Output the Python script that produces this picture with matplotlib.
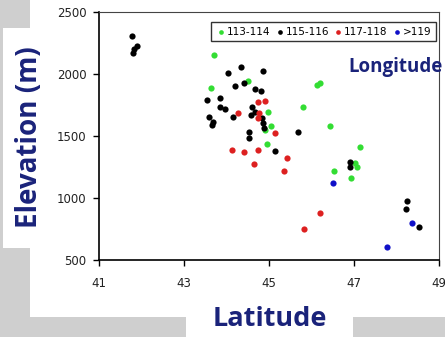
import numpy as np
import matplotlib.pyplot as plt
from matplotlib.patches import Rectangle

# longitude groups: latitude (deg) and elevation (m)
lat_113 = [43.71, 43.63, 44.51, 46.12, 46.20, 45.79, 44.98, 45.04, 44.91, 46.44,
           44.95, 47.14, 47.02, 47.08, 46.54, 46.93]
elev_113 = [2151, 1883, 1942, 1909, 1923, 1735, 1695, 1582, 1547, 1579,
            1432, 1407, 1279, 1252, 1220, 1158]

lat_115 = [41.78, 41.89, 41.83, 41.79, 44.04, 44.35, 44.86, 44.21, 44.40, 44.68,
           44.81, 43.55, 43.85, 43.84, 43.96, 43.59, 43.69, 43.67, 44.16, 44.61,
           44.57, 44.66, 44.83, 44.85, 44.89, 44.54, 44.53, 45.69, 45.15, 46.91,
           46.91, 48.25, 48.22, 48.53]
elev_115 = [2307, 2226, 2199, 2164, 2009, 2057, 2022, 1901, 1923, 1880,
            1861, 1789, 1802, 1730, 1713, 1649, 1614, 1587, 1649, 1730,
            1668, 1695, 1641, 1606, 1560, 1534, 1480, 1528, 1378, 1287,
            1246, 975, 908, 768]

lat_117 = [44.73, 44.91, 44.28, 44.77, 44.75, 45.13, 44.14, 44.40, 44.75, 44.65,
           45.42, 45.35, 46.20, 45.82]
elev_117 = [1770, 1783, 1681, 1687, 1641, 1525, 1386, 1372, 1386, 1273,
            1319, 1219, 876, 747]

lat_119 = [46.50, 48.36, 47.77]
elev_119 = [1123, 795, 607]

groups = ['113-114', '115-116', '117-118', '>119']
colors = ['#33dd33', '#000000', '#dd2020', '#1010c8']

navy = '#1a237a'

fig = plt.figure(figsize=(4.45, 3.37), dpi=100, facecolor='#cfcfcf')

# white backing panels like the slide
for (x0, y0, w, h) in [(30, 20, 415, 317), (3, 89, 40, 220), (186, 0, 167, 25)]:
    fig.patches.append(Rectangle((x0/445, y0/337), w/445, h/337, transform=fig.transFigure,
                                 facecolor='white', edgecolor='none', zorder=-10))

ax = fig.add_axes([0.2225, 0.2285, 0.764, 0.7365])
ax.set_facecolor('white')

data = [(lat_113, elev_113), (lat_115, elev_115), (lat_117, elev_117), (lat_119, elev_119)]
for (x, y), lab, c in zip(data, groups, colors):
    ax.scatter(x, y, s=20, color=c, label=lab, zorder=3, linewidths=0)

ax.set_xlim(41, 49)
ax.set_ylim(500, 2500)
ax.set_xticks([41, 43, 45, 47, 49])
ax.set_yticks([500, 1000, 1500, 2000, 2500])
ax.tick_params(axis='both', direction='out', length=4, width=1, labelsize=8.5,
               labelcolor='#222222')
ax.tick_params(axis='x', pad=8)
ax.tick_params(axis='y', pad=5)

for s in ['left', 'bottom']:
    ax.spines[s].set_color('black')
    ax.spines[s].set_linewidth(1.2)
for s in ['top', 'right']:
    ax.spines[s].set_color('#444444')
    ax.spines[s].set_linewidth(0.8)

leg = ax.legend(loc='upper right', bbox_to_anchor=(0.991, 0.959), borderaxespad=0,
                ncol=4, fontsize=7.5, frameon=True, fancybox=False, handletextpad=0.05,
                columnspacing=0.4, borderpad=0.45, markerscale=0.75, handlelength=1.0)
leg.get_frame().set_edgecolor('black')
leg.get_frame().set_linewidth(1.0)

fig.text(30/445, 1 - 137/337, 'Elevation (m)', rotation=90, ha='center', va='center',
         fontsize=20, color=navy, family='Open Sans', fontweight='bold')
fig.text(270/445, 1 - 319/337, 'Latitude', ha='center', va='center',
         fontsize=19.5, color=navy, family='Open Sans', fontweight='bold')
fig.text(395/445, 1 - 67/337, 'Longitude', ha='center', va='center',
         fontsize=13.5, color=navy, family='Open Sans', fontweight='bold')

fig.savefig('out.png', dpi=100, facecolor=fig.get_facecolor())
